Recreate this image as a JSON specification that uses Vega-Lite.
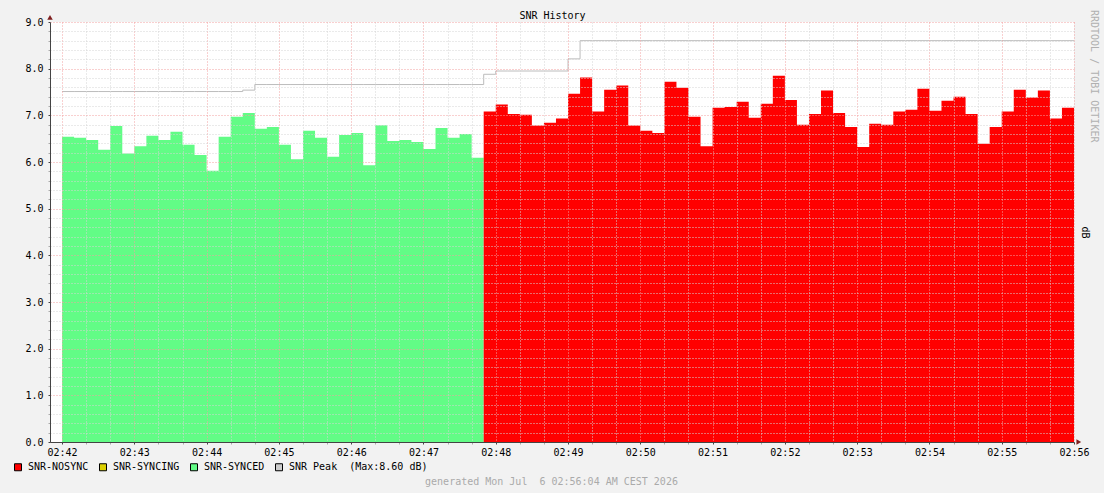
{
  "$schema": "https://vega.github.io/schema/vega-lite/v6.json",
  "width": 1024,
  "height": 420,
  "autosize": {"type": "none"},
  "padding": {"left": 50, "top": 22, "right": 30, "bottom": 51},
  "background": "#f2f2f2",
  "view": {"fill": "#ffffff", "stroke": null},
  "config": {
    "font": "DejaVu Sans Mono",
    "axis": {"labelFont": "DejaVu Sans Mono", "titleFont": "DejaVu Sans Mono", "labelFontSize": 10, "titleFontSize": 10, "labelColor": "#000000", "titleFontWeight": "normal"},
    "title": {"font": "DejaVu Sans Mono", "fontSize": 10, "fontWeight": "normal"}
  },
  "title": {"text": "RRDTOOL / TOBI OETIKER", "orient": "right", "anchor": "start", "color": "#b0b0b0", "offset": 0},
  "data": {
    "values": [
      {"t": "02:42:00", "t2": "02:42:10", "v": 6.54, "s": "SNR-SYNCED", "p": 7.51},
      {"t": "02:42:10", "t2": "02:42:20", "v": 6.52, "s": "SNR-SYNCED", "p": 7.51},
      {"t": "02:42:20", "t2": "02:42:30", "v": 6.47, "s": "SNR-SYNCED", "p": 7.51},
      {"t": "02:42:30", "t2": "02:42:40", "v": 6.26, "s": "SNR-SYNCED", "p": 7.51},
      {"t": "02:42:40", "t2": "02:42:50", "v": 6.77, "s": "SNR-SYNCED", "p": 7.51},
      {"t": "02:42:50", "t2": "02:43:00", "v": 6.18, "s": "SNR-SYNCED", "p": 7.51},
      {"t": "02:43:00", "t2": "02:43:10", "v": 6.34, "s": "SNR-SYNCED", "p": 7.51},
      {"t": "02:43:10", "t2": "02:43:20", "v": 6.56, "s": "SNR-SYNCED", "p": 7.51},
      {"t": "02:43:20", "t2": "02:43:30", "v": 6.47, "s": "SNR-SYNCED", "p": 7.51},
      {"t": "02:43:30", "t2": "02:43:40", "v": 6.65, "s": "SNR-SYNCED", "p": 7.51},
      {"t": "02:43:40", "t2": "02:43:50", "v": 6.37, "s": "SNR-SYNCED", "p": 7.51},
      {"t": "02:43:50", "t2": "02:44:00", "v": 6.15, "s": "SNR-SYNCED", "p": 7.51},
      {"t": "02:44:00", "t2": "02:44:10", "v": 5.81, "s": "SNR-SYNCED", "p": 7.51},
      {"t": "02:44:10", "t2": "02:44:20", "v": 6.54, "s": "SNR-SYNCED", "p": 7.51},
      {"t": "02:44:20", "t2": "02:44:30", "v": 6.97, "s": "SNR-SYNCED", "p": 7.51},
      {"t": "02:44:30", "t2": "02:44:40", "v": 7.05, "s": "SNR-SYNCED", "p": 7.54},
      {"t": "02:44:40", "t2": "02:44:50", "v": 6.71, "s": "SNR-SYNCED", "p": 7.66},
      {"t": "02:44:50", "t2": "02:45:00", "v": 6.75, "s": "SNR-SYNCED", "p": 7.66},
      {"t": "02:45:00", "t2": "02:45:10", "v": 6.37, "s": "SNR-SYNCED", "p": 7.66},
      {"t": "02:45:10", "t2": "02:45:20", "v": 6.06, "s": "SNR-SYNCED", "p": 7.66},
      {"t": "02:45:20", "t2": "02:45:30", "v": 6.67, "s": "SNR-SYNCED", "p": 7.66},
      {"t": "02:45:30", "t2": "02:45:40", "v": 6.52, "s": "SNR-SYNCED", "p": 7.66},
      {"t": "02:45:40", "t2": "02:45:50", "v": 6.11, "s": "SNR-SYNCED", "p": 7.66},
      {"t": "02:45:50", "t2": "02:46:00", "v": 6.58, "s": "SNR-SYNCED", "p": 7.66},
      {"t": "02:46:00", "t2": "02:46:10", "v": 6.62, "s": "SNR-SYNCED", "p": 7.66},
      {"t": "02:46:10", "t2": "02:46:20", "v": 5.93, "s": "SNR-SYNCED", "p": 7.66},
      {"t": "02:46:20", "t2": "02:46:30", "v": 6.79, "s": "SNR-SYNCED", "p": 7.66},
      {"t": "02:46:30", "t2": "02:46:40", "v": 6.45, "s": "SNR-SYNCED", "p": 7.66},
      {"t": "02:46:40", "t2": "02:46:50", "v": 6.47, "s": "SNR-SYNCED", "p": 7.66},
      {"t": "02:46:50", "t2": "02:47:00", "v": 6.43, "s": "SNR-SYNCED", "p": 7.66},
      {"t": "02:47:00", "t2": "02:47:10", "v": 6.28, "s": "SNR-SYNCED", "p": 7.66},
      {"t": "02:47:10", "t2": "02:47:20", "v": 6.73, "s": "SNR-SYNCED", "p": 7.66},
      {"t": "02:47:20", "t2": "02:47:30", "v": 6.52, "s": "SNR-SYNCED", "p": 7.66},
      {"t": "02:47:30", "t2": "02:47:40", "v": 6.60, "s": "SNR-SYNCED", "p": 7.66},
      {"t": "02:47:40", "t2": "02:47:50", "v": 6.09, "s": "SNR-SYNCED", "p": 7.66},
      {"t": "02:47:50", "t2": "02:48:00", "v": 7.08, "s": "SNR-NOSYNC", "p": 7.88},
      {"t": "02:48:00", "t2": "02:48:10", "v": 7.23, "s": "SNR-NOSYNC", "p": 7.95},
      {"t": "02:48:10", "t2": "02:48:20", "v": 7.03, "s": "SNR-NOSYNC", "p": 7.95},
      {"t": "02:48:20", "t2": "02:48:30", "v": 7.01, "s": "SNR-NOSYNC", "p": 7.95},
      {"t": "02:48:30", "t2": "02:48:40", "v": 6.78, "s": "SNR-NOSYNC", "p": 7.95},
      {"t": "02:48:40", "t2": "02:48:50", "v": 6.84, "s": "SNR-NOSYNC", "p": 7.95},
      {"t": "02:48:50", "t2": "02:49:00", "v": 6.93, "s": "SNR-NOSYNC", "p": 7.95},
      {"t": "02:49:00", "t2": "02:49:10", "v": 7.46, "s": "SNR-NOSYNC", "p": 8.21},
      {"t": "02:49:10", "t2": "02:49:20", "v": 7.81, "s": "SNR-NOSYNC", "p": 8.60},
      {"t": "02:49:20", "t2": "02:49:30", "v": 7.08, "s": "SNR-NOSYNC", "p": 8.60},
      {"t": "02:49:30", "t2": "02:49:40", "v": 7.55, "s": "SNR-NOSYNC", "p": 8.60},
      {"t": "02:49:40", "t2": "02:49:50", "v": 7.64, "s": "SNR-NOSYNC", "p": 8.60},
      {"t": "02:49:50", "t2": "02:50:00", "v": 6.78, "s": "SNR-NOSYNC", "p": 8.60},
      {"t": "02:50:00", "t2": "02:50:10", "v": 6.67, "s": "SNR-NOSYNC", "p": 8.60},
      {"t": "02:50:10", "t2": "02:50:20", "v": 6.62, "s": "SNR-NOSYNC", "p": 8.60},
      {"t": "02:50:20", "t2": "02:50:30", "v": 7.72, "s": "SNR-NOSYNC", "p": 8.60},
      {"t": "02:50:30", "t2": "02:50:40", "v": 7.59, "s": "SNR-NOSYNC", "p": 8.60},
      {"t": "02:50:40", "t2": "02:50:50", "v": 6.97, "s": "SNR-NOSYNC", "p": 8.60},
      {"t": "02:50:50", "t2": "02:51:00", "v": 6.34, "s": "SNR-NOSYNC", "p": 8.60},
      {"t": "02:51:00", "t2": "02:51:10", "v": 7.16, "s": "SNR-NOSYNC", "p": 8.60},
      {"t": "02:51:10", "t2": "02:51:20", "v": 7.18, "s": "SNR-NOSYNC", "p": 8.60},
      {"t": "02:51:20", "t2": "02:51:30", "v": 7.29, "s": "SNR-NOSYNC", "p": 8.60},
      {"t": "02:51:30", "t2": "02:51:40", "v": 6.95, "s": "SNR-NOSYNC", "p": 8.60},
      {"t": "02:51:40", "t2": "02:51:50", "v": 7.25, "s": "SNR-NOSYNC", "p": 8.60},
      {"t": "02:51:50", "t2": "02:52:00", "v": 7.85, "s": "SNR-NOSYNC", "p": 8.60},
      {"t": "02:52:00", "t2": "02:52:10", "v": 7.33, "s": "SNR-NOSYNC", "p": 8.60},
      {"t": "02:52:10", "t2": "02:52:20", "v": 6.80, "s": "SNR-NOSYNC", "p": 8.60},
      {"t": "02:52:20", "t2": "02:52:30", "v": 7.03, "s": "SNR-NOSYNC", "p": 8.60},
      {"t": "02:52:30", "t2": "02:52:40", "v": 7.53, "s": "SNR-NOSYNC", "p": 8.60},
      {"t": "02:52:40", "t2": "02:52:50", "v": 7.05, "s": "SNR-NOSYNC", "p": 8.60},
      {"t": "02:52:50", "t2": "02:53:00", "v": 6.75, "s": "SNR-NOSYNC", "p": 8.60},
      {"t": "02:53:00", "t2": "02:53:10", "v": 6.32, "s": "SNR-NOSYNC", "p": 8.60},
      {"t": "02:53:10", "t2": "02:53:20", "v": 6.82, "s": "SNR-NOSYNC", "p": 8.60},
      {"t": "02:53:20", "t2": "02:53:30", "v": 6.80, "s": "SNR-NOSYNC", "p": 8.60},
      {"t": "02:53:30", "t2": "02:53:40", "v": 7.08, "s": "SNR-NOSYNC", "p": 8.60},
      {"t": "02:53:40", "t2": "02:53:50", "v": 7.12, "s": "SNR-NOSYNC", "p": 8.60},
      {"t": "02:53:50", "t2": "02:54:00", "v": 7.57, "s": "SNR-NOSYNC", "p": 8.60},
      {"t": "02:54:00", "t2": "02:54:10", "v": 7.10, "s": "SNR-NOSYNC", "p": 8.60},
      {"t": "02:54:10", "t2": "02:54:20", "v": 7.31, "s": "SNR-NOSYNC", "p": 8.60},
      {"t": "02:54:20", "t2": "02:54:30", "v": 7.40, "s": "SNR-NOSYNC", "p": 8.60},
      {"t": "02:54:30", "t2": "02:54:40", "v": 7.03, "s": "SNR-NOSYNC", "p": 8.60},
      {"t": "02:54:40", "t2": "02:54:50", "v": 6.39, "s": "SNR-NOSYNC", "p": 8.60},
      {"t": "02:54:50", "t2": "02:55:00", "v": 6.75, "s": "SNR-NOSYNC", "p": 8.60},
      {"t": "02:55:00", "t2": "02:55:10", "v": 7.08, "s": "SNR-NOSYNC", "p": 8.60},
      {"t": "02:55:10", "t2": "02:55:20", "v": 7.55, "s": "SNR-NOSYNC", "p": 8.60},
      {"t": "02:55:20", "t2": "02:55:30", "v": 7.38, "s": "SNR-NOSYNC", "p": 8.60},
      {"t": "02:55:30", "t2": "02:55:40", "v": 7.53, "s": "SNR-NOSYNC", "p": 8.60},
      {"t": "02:55:40", "t2": "02:55:50", "v": 6.93, "s": "SNR-NOSYNC", "p": 8.60},
      {"t": "02:55:50", "t2": "02:56:00", "v": 7.16, "s": "SNR-NOSYNC", "p": 8.60}
    ],
    "format": {"parse": {"t": "utc:'%H:%M:%S'", "t2": "utc:'%H:%M:%S'"}}
  },
  "layer": [
    {
      "transform": [{"fold": ["t", "t2"], "as": ["edge", "time"]}],
      "mark": {"type": "area", "interpolate": "linear", "opacity": 1},
      "encoding": {
        "x": {
          "field": "time",
          "type": "temporal",
          "scale": {
            "type": "utc",
            "domain": [-2208979090000, -2208978240000]
          },
          "axis": {
            "orient": "bottom",
            "zindex": 1,
            "values": [-2208979080000, -2208979060000, -2208979040000, -2208979020000, -2208979000000, -2208978980000, -2208978960000, -2208978940000, -2208978920000, -2208978900000, -2208978880000, -2208978860000, -2208978840000, -2208978820000, -2208978800000, -2208978780000, -2208978760000, -2208978740000, -2208978720000, -2208978700000, -2208978680000, -2208978660000, -2208978640000, -2208978620000, -2208978600000, -2208978580000, -2208978560000, -2208978540000, -2208978520000, -2208978500000, -2208978480000, -2208978460000, -2208978440000, -2208978420000, -2208978400000, -2208978380000, -2208978360000, -2208978340000, -2208978320000, -2208978300000, -2208978280000, -2208978260000, -2208978240000],
            "labelExpr": "utcseconds(datum.value) == 0 ? utcFormat(datum.value, '%H:%M') : ''",
            "labelOverlap": false,
            "labelFlush": false,
            "labelPadding": 3,
            "tickSize": 2,
            "tickColor": {"condition": {"test": "utcseconds(datum.value) == 0", "value": "#444444"}, "value": "#aaaaaa"},
            "domainColor": "#444444",
            "gridColor": {"condition": {"test": "utcseconds(datum.value) == 0", "value": "#f2a0a0"}, "value": "#d4d4d4"},
            "gridDash": [1, 2],
            "title": "generated Mon Jul\u00a0 6 02:56:04 AM CEST 2026",
            "titleColor": "#aaaaaa",
            "titleX": 501,
            "titleY": 34,
            "titleBaseline": "top",
            "titleAlign": "center"
          }
        },
        "y": {
          "field": "v",
          "type": "quantitative",
          "stack": null,
          "scale": {"domain": [0, 9], "nice": false},
          "axis": {
            "orient": "left",
            "zindex": 1,
            "values": [0, 0.2, 0.4, 0.6, 0.8, 1, 1.2, 1.4, 1.6, 1.8, 2, 2.2, 2.4, 2.6, 2.8, 3, 3.2, 3.4, 3.6, 3.8, 4, 4.2, 4.4, 4.6, 4.8, 5, 5.2, 5.4, 5.6, 5.8, 6, 6.2, 6.4, 6.6, 6.8, 7, 7.2, 7.4, 7.6, 7.8, 8, 8.2, 8.4, 8.6, 8.8, 9],
            "labelExpr": "datum.value % 1 == 0 ? format(datum.value, '.1f') : ''",
            "labelOverlap": false,
            "labelFlush": false,
            "labelPadding": 5,
            "tickSize": 2,
            "tickColor": {"condition": {"test": "datum.value % 1 == 0", "value": "#444444"}, "value": "#aaaaaa"},
            "domainColor": "#444444",
            "gridColor": {"condition": {"test": "datum.value % 1 == 0", "value": "#f2a0a0"}, "value": "#d4d4d4"},
            "gridDash": [1, 2],
            "title": null
          }
        },
        "color": {
          "field": "s",
          "type": "nominal",
          "scale": {
            "domain": ["SNR-NOSYNC", "SNR-SYNCING", "SNR-SYNCED", "SNR Peak\u00a0 (Max:8.60 dB)"],
            "range": ["#ff0000", "#dcd000", "#62fc86", "#cccccc"]
          },
          "legend": {
            "orient": "none",
            "legendX": -37,
            "legendY": 440,
            "direction": "horizontal",
            "title": null,
            "padding": 0,
            "symbolType": "square",
            "symbolSize": 49,
            "symbolStrokeColor": "#000000",
            "symbolStrokeWidth": 1,
            "symbolOpacity": 1,
            "labelFont": "DejaVu Sans Mono",
            "labelFontSize": 10,
            "labelColor": "#000000",
            "labelOffset": 5,
            "columnPadding": 8,
            "labelLimit": 300
          }
        }
      }
    },
    {
      "transform": [{"fold": ["t", "t2"], "as": ["edge", "time"]}],
      "mark": {"type": "line", "color": "#bcbcbc", "strokeWidth": 1, "interpolate": "linear"},
      "encoding": {
        "x": {
          "field": "time",
          "type": "temporal",
          "axis": {
            "orient": "top",
            "labels": false,
            "ticks": false,
            "domain": false,
            "grid": false,
            "title": "SNR History",
            "titleColor": "#000000",
            "titleX": 502,
            "titleY": -12,
            "titleBaseline": "top",
            "titleAlign": "center"
          }
        },
        "y": {
          "field": "p",
          "type": "quantitative",
          "axis": {
            "orient": "right",
            "labels": false,
            "ticks": false,
            "domain": false,
            "grid": false,
            "title": "dB",
            "titleColor": "#000000",
            "titleAngle": 90,
            "titleX": 10,
            "titleY": 210,
            "titleAlign": "center",
            "titleBaseline": "middle"
          }
        }
      }
    },
    {
      "data": {"values": [{"a": "y"}]},
      "mark": {"type": "point", "shape": "triangle-up", "filled": true, "color": "#7f1f1f", "size": 30, "opacity": 1},
      "encoding": {
        "x": {"datum": -2208979090000, "type": "temporal", "axis": null},
        "y": {"datum": 9.1, "type": "quantitative", "axis": null}
      }
    },
    {
      "data": {"values": [{"a": "x"}]},
      "mark": {"type": "point", "shape": "triangle-right", "filled": true, "color": "#7f1f1f", "size": 30, "opacity": 1},
      "encoding": {
        "x": {"datum": -2208978236000, "type": "temporal", "axis": null},
        "y": {"datum": 0, "type": "quantitative", "axis": null}
      }
    }
  ],
  "resolve": {"axis": {"x": "independent", "y": "independent"}}
}
